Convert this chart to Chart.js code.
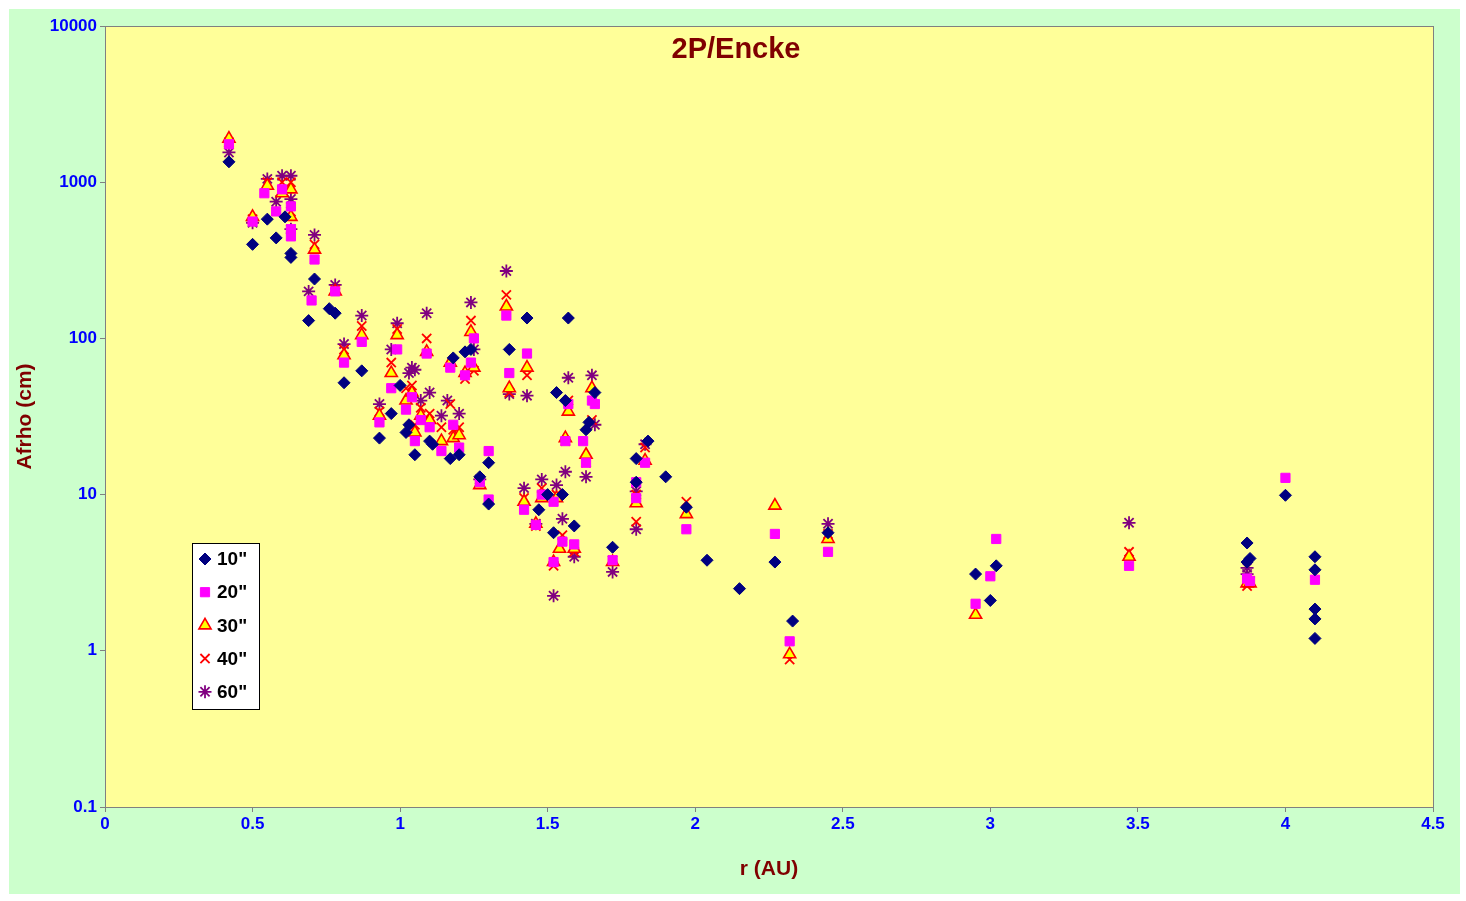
<!DOCTYPE html>
<html><head><meta charset="utf-8">
<script src="https://cdn.jsdelivr.net/npm/chart.js@4"></script>
<style>
html,body{margin:0;padding:0;background:#fff;}
#wrap{position:absolute;left:9px;top:9px;width:1451px;height:885px;background:#ccffcc;}
</style></head><body>
<div id="wrap"><canvas id="c" width="1451" height="885"></canvas></div>
<script>
const title = "2P/Encke";
const xTitle = "r (AU)";
const yTitle = "Afrho (cm)";
const seriesNames = ['10"','20"','30"','40"','60"'];
const yTicks = [0.1,1,10,100,1000,10000];

const s10 = [[0.42,1350],[0.5,400],[0.55,580],[0.58,440],[0.63,350],[0.63,330],[0.61,600],[0.69,130],[0.71,240],[0.76,155],[0.78,145],[0.81,52],[0.87,62],[0.93,23],[0.97,33],[1.0,50],[1.02,25],[1.03,28],[1.05,18],[1.1,22],[1.11,21],[1.17,17],[1.18,75],[1.2,18],[1.22,82],[1.24,85],[1.27,13],[1.3,16],[1.3,8.7],[1.37,85],[1.43,135],[1.47,8],[1.5,10],[1.52,5.7],[1.53,45],[1.55,10],[1.56,40],[1.57,135],[1.59,6.3],[1.63,26],[1.64,29],[1.66,45],[1.72,4.6],[1.8,17],[1.8,12],[1.84,22],[1.9,13],[1.97,8.3],[2.04,3.8],[2.15,2.5],[2.27,3.7],[2.33,1.55],[2.45,5.7],[2.95,3.1],[3.0,2.1],[3.02,3.5],[3.87,4.9],[3.87,3.7],[3.88,3.9],[4.0,9.9],[4.1,4.0],[4.1,3.3],[4.1,1.85],[4.1,1.6],[4.1,1.2]];
const s20 = [[0.42,1750],[0.5,560],[0.54,850],[0.58,650],[0.6,900],[0.63,500],[0.63,450],[0.63,700],[0.7,175],[0.71,320],[0.78,200],[0.81,70],[0.87,95],[0.93,29],[0.97,48],[0.99,85],[1.02,35],[1.04,42],[1.05,22],[1.07,30],[1.09,80],[1.1,27],[1.14,19],[1.17,65],[1.18,28],[1.2,20],[1.22,58],[1.24,70],[1.25,100],[1.27,12],[1.3,9.3],[1.3,19],[1.36,140],[1.37,60],[1.42,8],[1.43,80],[1.46,6.4],[1.48,10],[1.52,3.7],[1.52,9],[1.55,5],[1.56,22],[1.57,38],[1.59,4.8],[1.62,22],[1.63,16],[1.65,40],[1.66,38],[1.72,3.8],[1.8,9.5],[1.8,12],[1.83,16],[1.97,6.0],[2.27,5.6],[2.32,1.15],[2.45,4.3],[2.95,2.0],[3.0,3.0],[3.02,5.2],[3.47,3.5],[3.87,2.9],[3.88,2.8],[4.0,12.8],[4.1,2.85]];
const s30 = [[0.42,1900],[0.5,600],[0.55,950],[0.6,850],[0.63,900],[0.63,600],[0.71,370],[0.78,200],[0.81,78],[0.87,105],[0.93,32],[0.97,60],[0.99,105],[1.02,40],[1.04,45],[1.05,25],[1.07,32],[1.09,82],[1.1,30],[1.14,22],[1.17,70],[1.18,23],[1.2,24],[1.22,60],[1.24,110],[1.25,65],[1.27,11.5],[1.36,160],[1.37,48],[1.42,9],[1.43,65],[1.46,6.5],[1.48,9.5],[1.52,3.7],[1.53,9.5],[1.54,4.5],[1.56,23],[1.57,34],[1.59,4.5],[1.63,18],[1.65,48],[1.72,3.7],[1.8,8.8],[1.83,16.5],[1.97,7.5],[2.27,8.5],[2.32,0.95],[2.45,5.2],[2.95,1.7],[3.47,4.0],[3.87,2.7],[3.88,2.7]];
const s40 = [[0.42,1800],[0.5,580],[0.55,1000],[0.6,1000],[0.63,1000],[0.63,650],[0.71,400],[0.78,205],[0.81,85],[0.87,120],[0.93,34],[0.97,70],[0.99,115],[1.02,48],[1.04,50],[1.05,28],[1.07,36],[1.09,100],[1.1,33],[1.14,27],[1.17,38],[1.18,26],[1.2,27],[1.22,55],[1.24,130],[1.25,62],[1.27,12],[1.36,190],[1.37,45],[1.42,9.5],[1.43,58],[1.46,6.3],[1.48,11],[1.52,3.5],[1.53,10],[1.55,5.5],[1.56,22],[1.57,40],[1.59,4.3],[1.63,16],[1.65,30],[1.72,3.8],[1.8,6.7],[1.8,10],[1.83,20],[1.97,9.0],[2.32,0.88],[2.45,5.6],[3.47,4.3],[3.87,2.6],[3.88,2.8]];
const s60 = [[0.42,1550],[0.5,550],[0.55,1050],[0.58,750],[0.6,1100],[0.63,1100],[0.63,500],[0.63,780],[0.69,200],[0.71,460],[0.78,220],[0.81,92],[0.87,140],[0.93,38],[0.97,85],[0.99,125],[1.03,60],[1.04,65],[1.05,63],[1.07,40],[1.09,145],[1.1,45],[1.14,32],[1.16,40],[1.2,33],[1.24,170],[1.25,85],[1.27,12.5],[1.36,270],[1.37,44],[1.42,11],[1.43,43],[1.46,6.5],[1.48,12.5],[1.52,2.25],[1.53,11.5],[1.55,7],[1.56,14],[1.57,56],[1.59,4],[1.63,13],[1.65,58],[1.66,28],[1.72,3.2],[1.8,6],[1.8,10.5],[1.83,21],[2.45,6.5],[3.47,6.6],[3.87,3.1],[3.87,3.4]];

const toPts = a => a.map(p => ({x:p[0], y:p[1]}));
const styles = [
  {pointStyle:'rectRot', backgroundColor:'#000080', borderColor:'#000080', pointRadius:6, borderWidth:1},
  {pointStyle:'rect', backgroundColor:'#ff00ff', borderColor:'#ff00ff', pointRadius:6.5, borderWidth:1},
  {pointStyle:'triangle', backgroundColor:'#ffff00', borderColor:'#ff0000', pointRadius:7, borderWidth:1.6},
  {pointStyle:'crossRot', backgroundColor:'#ff0000', borderColor:'#ff0000', pointRadius:6.5, borderWidth:1.8},
  {pointStyle:'star', backgroundColor:'#800080', borderColor:'#800080', pointRadius:6.5, borderWidth:1.8}
];
const all = [s10,s20,s30,s40,s60];
const datasets = all.map((s,i)=>Object.assign({label:seriesNames[i], data:toPts(s), showLine:false, pointHoverRadius:6}, styles[i]));

const bgPlugin = {
  id:'bg',
  beforeDraw(chart){
    const {ctx, chartArea:a} = chart;
    ctx.save();
    ctx.fillStyle='#ffff99';
    ctx.fillRect(a.left,a.top,a.right-a.left,a.bottom-a.top);
    ctx.strokeStyle='#808080'; ctx.lineWidth=1;
    ctx.strokeRect(a.left+0.5,a.top+0.5,a.right-a.left,a.bottom-a.top);
    ctx.restore();
  },
  afterDraw(chart){
    const {ctx, chartArea:a} = chart;
    ctx.save();
    ctx.fillStyle='#800000'; ctx.font='bold 29px Arial, "Liberation Sans"';
    ctx.textAlign='center'; ctx.textBaseline='middle';
    ctx.fillText(title, (a.left+a.right)/2 - 33, a.top+24);
    const lx=183, ly=534, lw=67, lh=166;
    ctx.fillStyle='#ffffff'; ctx.fillRect(lx,ly,lw,lh);
    ctx.strokeStyle='#000'; ctx.lineWidth=1; ctx.strokeRect(lx+0.5,ly+0.5,lw,lh);
    ctx.font='bold 19px Arial, "Liberation Sans"'; ctx.textAlign='left';
    seriesNames.forEach((n,i)=>{
      const cy = ly+16+i*33.2;
      const st = styles[i];
      ctx.fillStyle=st.backgroundColor; ctx.strokeStyle=st.borderColor; ctx.lineWidth=st.borderWidth;
      Chart.helpers.drawPoint(ctx,{pointStyle:st.pointStyle, radius:st.pointRadius, borderWidth:st.borderWidth}, lx+13, cy);
      ctx.fillStyle='#000';
      ctx.fillText(n, lx+25, cy+1);
    });
    ctx.restore();
  }
};

new Chart(document.getElementById('c'), {
  type:'scatter',
  data:{datasets},
  options:{
    responsive:false, animation:false,
    layout:{padding:{top:17,right:27,left:0,bottom:8}},
    plugins:{legend:{display:false}, tooltip:{enabled:false}},
    scales:{
      x:{type:'linear', min:0, max:4.5,
        ticks:{stepSize:0.5, color:'#0000ff', font:{family:'Arial, "Liberation Sans"', size:17, weight:'bold'}, maxRotation:0, padding:2, callback:v=>String(v)},
        grid:{drawOnChartArea:false, color:'#808080', tickLength:5},
        border:{color:'#808080'},
        title:{display:true, text:xTitle, color:'#800000', font:{family:'Arial, "Liberation Sans"', size:21, weight:'bold'}, padding:{top:0}},
        afterFit(s){ s.height=79; }
      },
      y:{type:'logarithmic', min:0.1, max:10000,
        afterBuildTicks(s){ s.ticks = yTicks.map(v=>({value:v})); },
        ticks:{color:'#0000ff', font:{family:'Arial, "Liberation Sans"', size:17, weight:'bold'}, callback:v=>String(v), padding:3},
        grid:{drawOnChartArea:false, color:'#808080', tickLength:5},
        border:{color:'#808080'},
        title:{display:true, text:yTitle, color:'#800000', font:{family:'Arial, "Liberation Sans"', size:21, weight:'bold'}, padding:{bottom:4}},
        afterFit(s){ s.width=96; }
      }
    }
  },
  plugins:[bgPlugin]
});
</script></body></html>
